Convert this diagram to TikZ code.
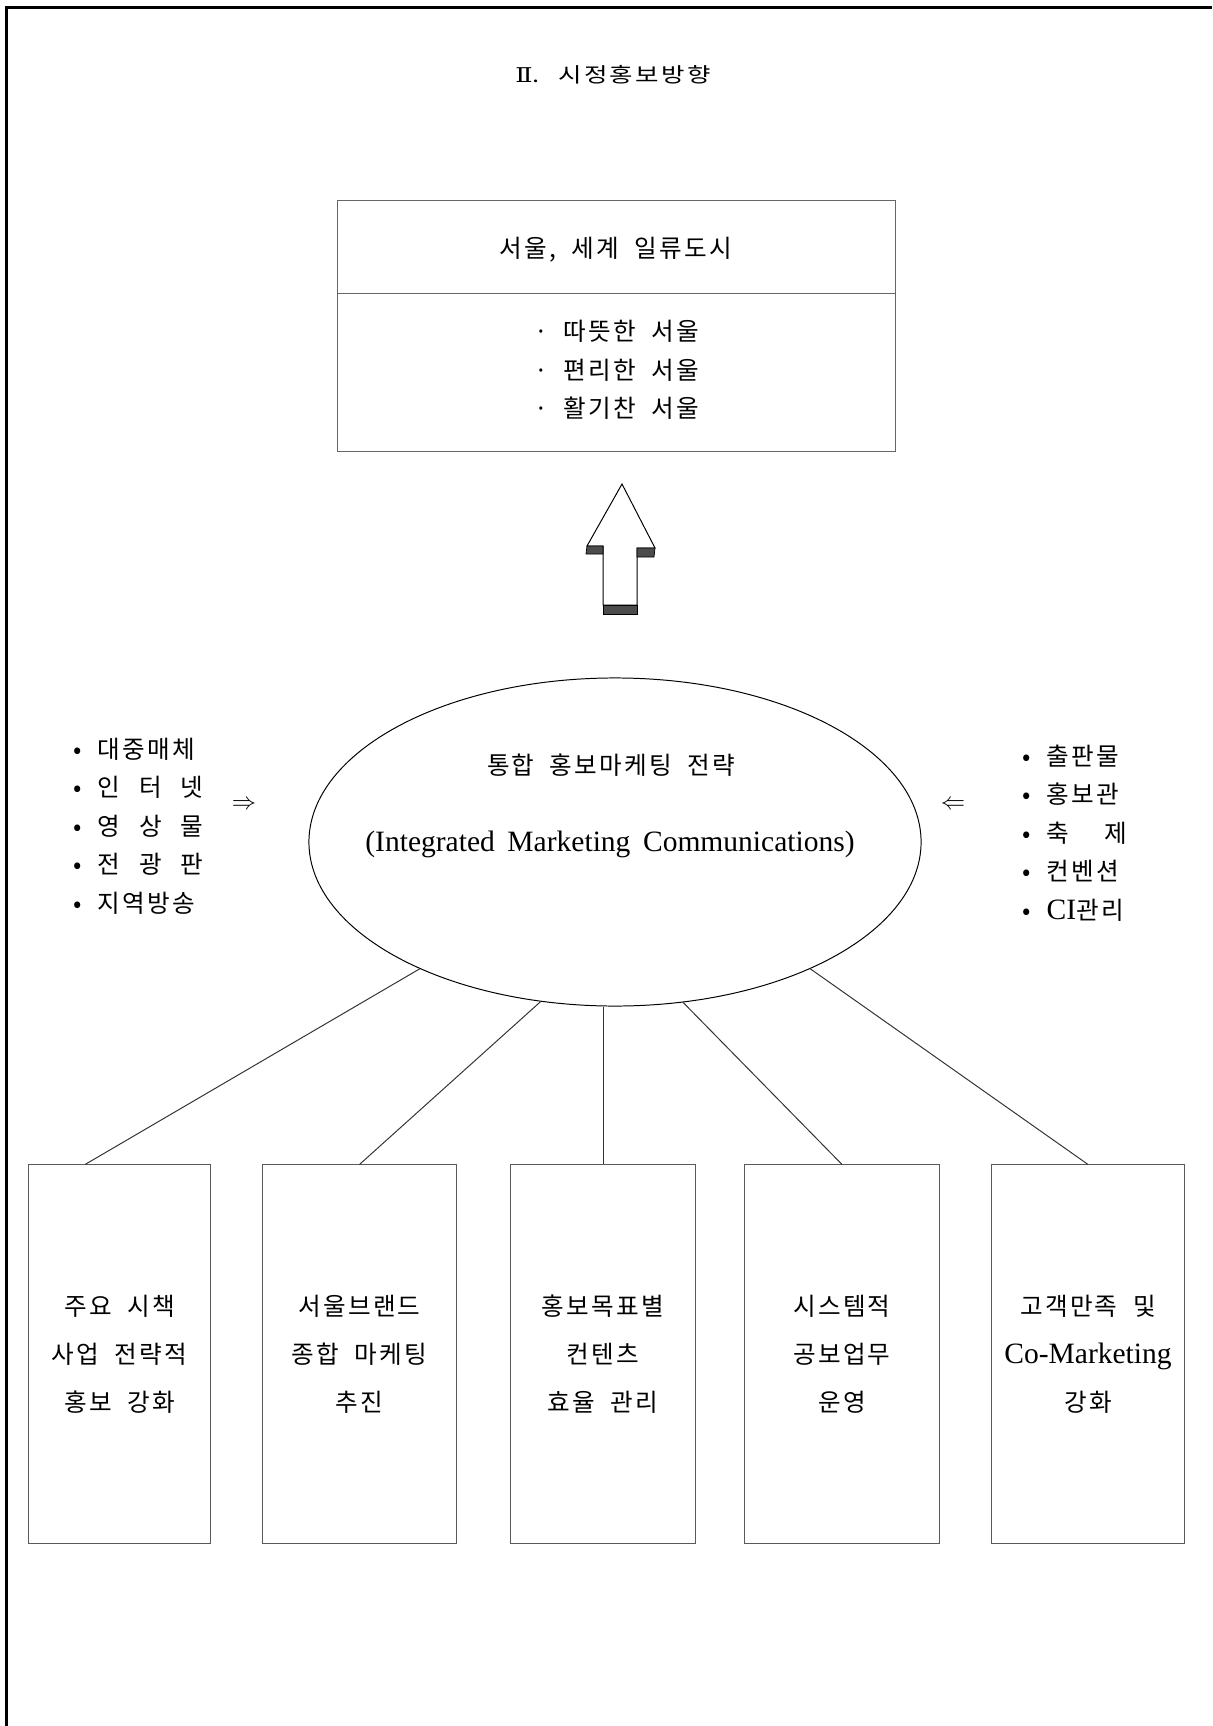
\documentclass[tikz,border=0pt]{standalone}
\usepackage{fontspec}
\usepackage{graphicx}
\setmainfont{Liberation Serif}[Scale=1.2, WordSpace=1.7]
\newfontfamily\kr{Noto Sans CJK KR}[LetterSpace=9, WordSpace=2]
\newfontfamily\numfont{DejaVu Serif}
\usetikzlibrary{shapes.geometric,positioning}

\begin{document}
\begin{tikzpicture}[x=0.025cm, y=-0.025cm,
    kor/.style={font=\kr\fontsize{17.5}{27.3}\selectfont},
    subbox/.style={draw=black!65, line width=0.7pt, minimum height=9.45cm, align=center, font=\kr\fontsize{17.5}{34}\selectfont},
    link/.style={black!80, line width=0.7pt}]
    \useasboundingbox (0,0) rectangle (1212,1726);

    % 쪽 테두리 (위, 왼쪽)
    \draw[line width=2.1pt] (6.5,1726) -- (6.5,7.5) -- (1212,7.5);

    % 제목
    \node (title) at (613,75) {\scalebox{1.25}[1]{\kr\fontsize{14.5}{16}\selectfont {\numfont Ⅱ}. 시정홍보방향}};

    % 목표 상자
    \node[draw=black!60, line width=0.7pt, minimum width=13.93cm, minimum height=6.25cm] (goal) at (616.5,326) {};
    \coordinate (cut) at (0,293);
    \draw[black!60, line width=0.7pt] (goal.west |- cut) -- (goal.east |- cut);
    \node[kor] (goaltitle) at (616,250) {서울, 세계 일류도시};
    \node[kor, align=left] (goallist) at (617,370) {· 따뜻한 서울\\· 편리한 서울\\· 활기찬 서울};

    % 위로 가는 굵은 화살표
    \filldraw[fill=white, line width=0.7pt] (622,484) -- (655,548) -- (637,548) -- (637,605) -- (603,605) -- (603,546) -- (587,546) -- cycle;
    \filldraw[fill=black!70, line width=0.5pt] (587,546) -- (603,546) -- (603,554) -- (586,554) -- cycle;
    \filldraw[fill=black!70, line width=0.5pt] (637,548) -- (655,548) -- (654,557) -- (637,557) -- cycle;
    \filldraw[fill=black!70, line width=0.5pt] (603,605) -- (637,605) -- (637,614) -- (603,614) -- cycle;

    % 통합 전략 타원
    \node[ellipse, draw, line width=0.7pt, minimum width=15.3cm, minimum height=8.2cm, inner sep=0pt] (imc) at (615,842) {};
    \node[kor] (imcko) at (611,765) {통합 홍보마케팅 전략};
    \node[font=\fontsize{17.5}{27}\selectfont] (imcen) at (610,844) {(Integrated Marketing Communications)};

    % 왼쪽 매체
    \node[kor, align=left, anchor=west] (media) at (68,826) {• 대중매체\\• \makebox[4.3em][s]{인\hfill 터\hfill 넷}\\• \makebox[4.3em][s]{영\hfill 상\hfill 물}\\• \makebox[4.3em][s]{전\hfill 광\hfill 판}\\• 지역방송};
    \node[font=\fontsize{17}{20}\selectfont] (toin) at (244,805) {$\Rightarrow$};

    % 오른쪽 매체
    \node[kor, align=left, anchor=west] (tools) at (1017,833) {• 출판물\\• 홍보관\\• \makebox[3.25em][s]{축\hfill 제}\\• 컨벤션\\• {\rmfamily CI}관리};
    \node[font=\fontsize{17}{20}\selectfont] (fromout) at (953,805) {$\Leftarrow$};

    % 세부 과제 상자
    \node[subbox, minimum width=4.525cm] (b1) at (119.5,1354) {주요 시책\\사업 전략적\\홍보 강화};
    \node[subbox, minimum width=4.825cm] (b2) at (359.5,1354) {서울브랜드\\종합 마케팅\\추진};
    \node[subbox, minimum width=4.625cm] (b3) at (603,1354) {홍보목표별\\컨텐츠\\효율 관리};
    \node[subbox, minimum width=4.85cm] (b4) at (842,1354) {시스템적\\공보업무\\운영};
    \node[subbox, minimum width=4.8cm] (b5) at (1088,1354) {고객만족 및\\{\rmfamily Co-Marketing}\\강화};

    % 타원에서 상자로
    \draw[link] (imc.213) -- ([xshift=-0.86cm]b1.north);
    \draw[link] (imc.245) -- (b2.north);
    \draw[link] (imc.south -| b3.north) -- (b3.north);
    \draw[link] (imc.293) -- (b4.north);
    \draw[link] (imc.327) -- (b5.north);
\end{tikzpicture}
\end{document}
